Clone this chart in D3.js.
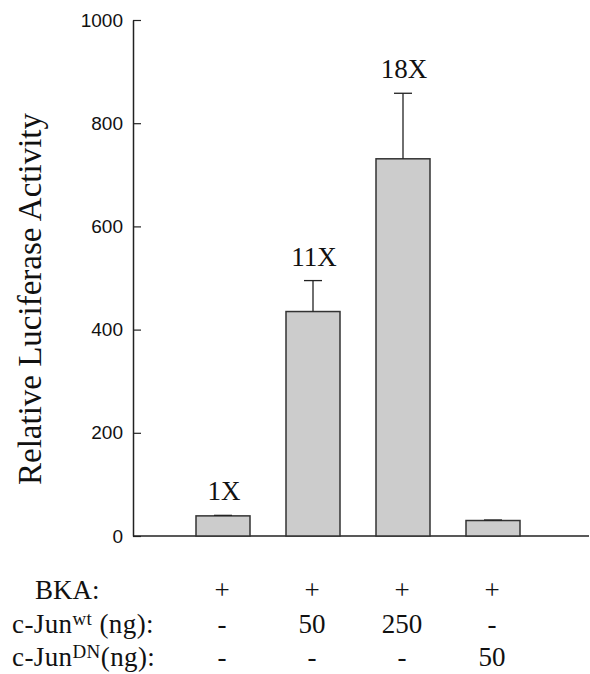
<!DOCTYPE html>
<html>
<head>
<meta charset="utf-8">
<script src="https://cdn.jsdelivr.net/npm/d3@7"></script>
<style>
  html, body { margin: 0; padding: 0; background: #fff; }
  svg { display: block; }
</style>
</head>
<body>
<svg id="chart" width="590" height="674"></svg>
<script>
// Luciferase reporter activity for four transfection conditions
const conditions = ["BKA", "BKA + c-Jun wt 50", "BKA + c-Jun wt 250", "BKA + c-Jun DN 50"];
const activity = [39, 435, 731, 30];
const errorUp = [1, 60, 127, 1];
const foldLabels = ["1X", "11X", "18X", ""];
const yTicks = [0, 200, 400, 600, 800, 1000];

// Treatment table under the x axis
const rowLabels = ["BKA:", "c-Jun|wt| (ng):", "c-Jun|DN|(ng):"];
const bkaRow = ["+", "+", "+", "+"];
const junWtRow = ["-", "50", "250", "-"];
const junDnRow = ["-", "-", "-", "50"];

const svg = d3.select("#chart");
const axisColor = "#222";
const serif = "Liberation Serif";
const sans = "Liberation Sans";

const x = d3.scaleBand().domain(conditions).range([178, 538])
  .paddingInner(0.4).paddingOuter(0.2);
const y = d3.scaleLinear().domain([0, 1000]).range([536, 20]);
const axisX0 = 133;

// y axis with inward ticks
const yAxis = d3.axisLeft(y).tickValues(yTicks).tickFormat(d3.format("d"))
  .tickSizeInner(-8).tickSizeOuter(0).tickPadding(10);
const gy = svg.append("g").attr("transform", `translate(${axisX0},0)`).call(yAxis);
gy.attr("font-family", null).attr("font-size", null);
gy.select(".domain").attr("stroke", axisColor).attr("stroke-width", 1.5);
gy.selectAll(".tick line").attr("stroke", axisColor).attr("stroke-width", 1.2);
gy.selectAll(".tick text").attr("fill", "#111")
  .attr("font-family", sans).attr("font-size", 19);

// x axis baseline
svg.append("line")
  .attr("x1", axisX0).attr("x2", 589)
  .attr("y1", y(0)).attr("y2", y(0))
  .attr("stroke", axisColor).attr("stroke-width", 1.5);

// bars
svg.append("g").selectAll("rect").data(conditions).join("rect")
  .attr("x", d => x(d))
  .attr("width", x.bandwidth())
  .attr("y", (d, i) => y(activity[i]))
  .attr("height", (d, i) => y(0) - y(activity[i]))
  .attr("fill", "#cccccc")
  .attr("stroke", "#333")
  .attr("stroke-width", 1.5);

// upper error bars
const eg = svg.append("g").attr("stroke", "#222").attr("stroke-width", 1.3);
conditions.forEach((c, i) => {
  const cx = x(c) + x.bandwidth() / 2;
  const top = y(activity[i] + errorUp[i]);
  eg.append("line").attr("x1", cx).attr("x2", cx).attr("y1", y(activity[i])).attr("y2", top);
  eg.append("line").attr("x1", cx - 9).attr("x2", cx + 9).attr("y1", top).attr("y2", top);
});

// fold-change labels above bars
svg.append("g").selectAll("text").data(conditions).join("text")
  .attr("x", d => x(d) + x.bandwidth() / 2 + 1)
  .attr("y", (d, i) => y(activity[i] + errorUp[i]) - 15)
  .attr("text-anchor", "middle")
  .attr("font-family", serif).attr("font-size", 27).attr("fill", "#111")
  .text((d, i) => foldLabels[i]);

// y axis title
svg.append("text")
  .attr("transform", `translate(41,${(y(0) + y(1000)) / 2 + 21}) rotate(-90)`)
  .attr("text-anchor", "middle")
  .attr("font-family", serif).attr("font-size", 33).attr("fill", "#111")
  .text("Relative Luciferase Activity");

// treatment table
const rowY = [599, 633, 666];
const labelX = [35, 12, 12];
const rows = [bkaRow, junWtRow, junDnRow];
const tbl = svg.append("g");
rowLabels.forEach((lab, r) => {
  const t = tbl.append("text").attr("x", labelX[r]).attr("y", rowY[r])
    .attr("font-family", serif).attr("font-size", 27).attr("fill", "#111")
    .attr("letter-spacing", r === 0 ? 0 : 0.4);
  const parts = lab.split("|");
  parts.forEach((p, k) => {
    const sp = t.append("tspan").text(p);
    if (k === 1) sp.attr("font-size", 19).attr("dy", -8);
    if (k === 2) sp.attr("dy", 8);
  });
});
rows.forEach((vals, r) => {
  tbl.selectAll(null).data(conditions).join("text")
    .attr("x", d => x(d) + x.bandwidth() / 2 - 1)
    .attr("y", rowY[r])
    .attr("text-anchor", "middle")
    .attr("font-family", serif).attr("font-size", 27).attr("fill", "#111")
    .text((d, i) => vals[i]);
});
</script>
</body>
</html>
